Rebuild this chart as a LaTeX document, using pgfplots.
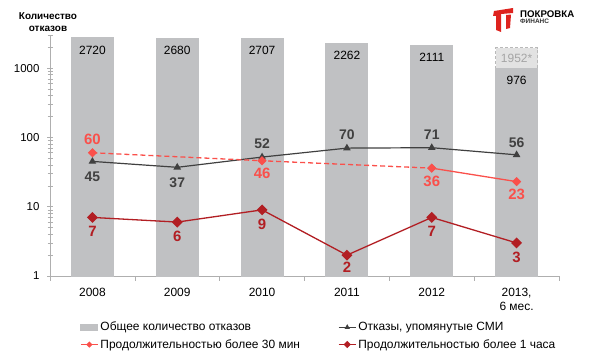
\documentclass[border=0pt]{standalone}
\usepackage{pgfplots}
\pgfplotsset{compat=1.18}
\usepackage{fontspec}
\setmainfont{Liberation Sans}
\definecolor{barc}{RGB}{192,193,195}
\definecolor{ghostfill}{RGB}{226,226,226}
\definecolor{ghostdraw}{RGB}{185,185,185}
\definecolor{ghosttext}{RGB}{165,165,165}
\definecolor{blk}{RGB}{64,64,64}
\definecolor{lred}{RGB}{250,80,75}
\definecolor{dred}{RGB}{178,30,35}
\definecolor{axisgray}{RGB}{175,175,175}
\definecolor{logored}{RGB}{222,35,30}
\begin{document}
\begin{tikzpicture}[x=1bp,y=1bp]
\useasboundingbox (0,0) rectangle (592,363);
\begin{axis}[
  at={(50bp,87bp)}, anchor=south west,
  width=509bp, height=241bp, scale only axis,
  ymode=log, ymin=1, ymax=3000,
  xmin=-0.5, xmax=5.5,
  axis lines*=left,
  axis line style={axisgray, line width=0.8bp},
  tick align=outside,
  major tick length=6bp, minor tick length=5bp,
  tick style={axisgray, line width=0.6bp},
  xtick={0,...,5},
  xticklabels={2008,2009,2010,2011,2012,{2013,\\6 мес.}},
  xticklabel style={align=center, font=\fontsize{12}{14}\selectfont, text=black, yshift=-3bp},
  minor xtick={-0.5,0.5,...,5.5},
  major x tick style={draw=none},
  ytick={1,10,100,1000}, yticklabels={1,10,100,1000},
  minor ytick={2,3,4,5,6,7,8,9,20,30,40,50,60,70,80,90,200,300,400,500,600,700,800,900,2000,3000},
  major y tick style={xshift=3bp},
  minor y tick style={xshift=2.5bp},
  yticklabel style={font=\fontsize{11.5}{13}\selectfont, text=black, xshift=-1bp},
  legend columns=2,
  legend cell align=left,
  legend image post style={every mark/.append style={scale=0.6}},
  legend style={at={(0.0589,-0.1826)}, anchor=north west, draw=none, fill=none,
    inner sep=0pt, font=\fontsize{12}{14}\selectfont, row sep=3bp,
    /tikz/every even column/.append style={column sep=36bp}},
]
% ghost bar (full-year estimate)
\addplot[ybar, bar width=42bp, bar shift=0pt, fill=ghostfill, draw=ghostdraw,
  dash pattern=on 3bp off 2bp, line width=0.9bp, forget plot,
  nodes near coords, point meta=explicit symbolic,
  every node near coord/.append style={anchor=center, yshift=-10bp,
    font=\fontsize{12}{14}\selectfont, text=ghosttext}]
  coordinates {(5,1952) [1952*]};
% total refusals
\addplot[ybar, bar width=42bp, bar shift=0pt, fill=barc, draw=barc, line width=1bp,
  nodes near coords, point meta=explicit symbolic,
  every node near coord/.append style={anchor=center, yshift=-12bp,
    font=\fontsize{12}{14}\selectfont, text=black},
  legend image code/.code={\fill[barc] (0bp,-3bp) rectangle (17bp,3bp);}]
  table[x=x, y=y, meta=lab] {
x y lab
0 2720 2720
1 2680 2680
2 2707 2707
3 2262 2262
4 2111 2111
5 976 976
};
\addlegendentry{Общее количество отказов}
% media-mentioned refusals
\addplot[blk, line width=1.2bp, mark=triangle*, mark size=3.2bp,
  nodes near coords, point meta=explicit symbolic,
  visualization depends on={\thisrow{dy} \as \dy},
  every node near coord/.append style={anchor=center, yshift=\dy bp,
    font=\bfseries\fontsize{14}{16}\selectfont, text=blk}]
  table[x=x, y=y, meta=lab] {
x y lab dy
0 45 45 -15
1 37 37 -15
2 52 52 13
3 70 70 13
4 71 71 13
5 56 56 12
};
\addlegendentry{Отказы, упомянутые СМИ}
% > 30 min, dashed part
\addplot[lred, line width=1.3bp, dash pattern=on 5bp off 3bp, mark=square*, mark size=2.6bp,
  mark options={solid, rotate=45}, forget plot,
  nodes near coords, point meta=explicit symbolic,
  visualization depends on={\thisrow{dy} \as \dy},
  every node near coord/.append style={anchor=center, yshift=\dy bp,
    font=\bfseries\fontsize{15}{17}\selectfont, text=lred}]
  table[x=x, y=y, meta=lab] {
x y lab dy
0 60 60 13
2 46 46 -13
4 36 36 -13
};
% > 30 min, solid part
\addplot[lred, line width=1.3bp, mark=square*, mark size=2.6bp,
  mark options={solid, rotate=45},
  nodes near coords, point meta=explicit symbolic,
  visualization depends on={\thisrow{dy} \as \dy},
  every node near coord/.append style={anchor=center, yshift=\dy bp,
    font=\bfseries\fontsize{15}{17}\selectfont, text=lred}]
  table[x=x, y=y, meta=lab] {
x y lab dy
4 36 {} -13
5 23 23 -13
};
\addlegendentry{Продолжительностью более 30 мин}
% > 1 hour
\addplot[dred, line width=1.3bp, mark=square*, mark size=3.2bp,
  mark options={solid, rotate=45},
  nodes near coords, point meta=explicit symbolic,
  visualization depends on={\thisrow{dy} \as \dy},
  every node near coord/.append style={anchor=center, yshift=\dy bp,
    font=\bfseries\fontsize{15}{17}\selectfont, text=dred}]
  table[x=x, y=y, meta=lab] {
x y lab dy
0 7 7 -14
1 6 6 -14
2 9 9 -14
3 2 2 -12
4 7 7 -14
5 3 3 -14
};
\addlegendentry{Продолжительностью более 1 часа}
\end{axis}
% y axis title
\node[align=center, font=\bfseries\fontsize{10}{11.5}\selectfont] at (48,341) {Количество\\отказов};
% logo
\fill[logored] (494,352) -- (513,355) -- (513,350) -- (501,349) -- (501,331) -- (496,333) -- (496,347) -- (493,347) -- cycle;
\fill[logored] (506,348) -- (511,348.5) -- (510,335) -- (506,334) -- cycle;
\node[anchor=west, inner sep=0pt, font=\bfseries\fontsize{9.7}{10}\selectfont] at (520,348.5) {ПОКРОВКА};
\node[anchor=west, inner sep=0pt, font=\bfseries\fontsize{6.5}{7}\selectfont, text=black!80] at (520,341.5) {ФИНАНС};
\end{tikzpicture}
\end{document}
